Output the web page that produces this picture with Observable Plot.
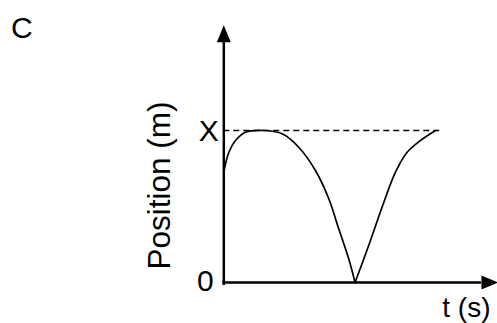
<!DOCTYPE html>
<html>
<head>
<meta charset="utf-8">
<script src="https://cdn.jsdelivr.net/npm/d3@7"></script>
<script src="https://cdn.jsdelivr.net/npm/@observablehq/plot@0.6"></script>
<style>
  html, body { margin: 0; padding: 0; background: white; }
</style>
</head>
<body>
<div id="chart"></div>
<script>
// Curve: time (arbitrary units) and position (X = 1)
const segment = ["fall","fall","fall","fall","fall","fall","fall","fall","fall","fall","fall","fall",
                 "rise","rise","rise","rise","rise","rise","rise"];
const tValues = [0, 0.24, 0.55, 1.02, 1.97, 2.76, 3.54, 4.33, 4.96, 5.43, 5.90, 6.20,
                 6.20, 6.90, 7.56, 8.11, 8.66, 9.29, 10.0];
const posValues = [0.726, 0.857, 0.934, 0.989, 1.0, 0.978, 0.89, 0.737, 0.551, 0.353, 0.156, 0,
                   0, 0.265, 0.528, 0.726, 0.857, 0.934, 1.0];

const yTickValues = [0, 1];
const yTickLabels = ["0", "X"];
const xLabel = "t (s)";
const yLabel = "Position (m)";
const panelLabel = "C";
const xAxisEnd = 12.17;   // base of x arrowhead (time units)
const yAxisEnd = 1.58;    // base of y arrowhead (position units)
const dashedEnd = 10.2;

const data = tValues.map((t, i) => ({t, pos: posValues[i], seg: segment[i]}));
const font = "Liberation Sans, Arial, Helvetica, sans-serif";

const arrowHead = {
  draw(context) {
    context.moveTo(-7, 0);
    context.lineTo(7, 0);
    context.lineTo(0, -17);
    context.closePath();
  }
};

const chart = Plot.plot({
  width: 497,
  height: 323,
  marginLeft: 0, marginRight: 0, marginTop: 0, marginBottom: 0,
  x: {domain: [0, 10], range: [223.3, 435], axis: null},
  y: {domain: [0, 1], range: [282, 130], axis: null},
  style: {background: "white", color: "black"},
  marks: [
    Plot.ruleY([1], {x1: 0, x2: dashedEnd, stroke: "black", strokeWidth: 1.5, strokeDasharray: "6,4"}),
    Plot.line(data, {x: "t", y: "pos", z: "seg", curve: "catmull-rom", stroke: "black", strokeWidth: 1.7}),
    Plot.ruleX([0], {y1: -0.02, y2: yAxisEnd, stroke: "black", strokeWidth: 2.5}),
    Plot.ruleY([0], {x1: -0.05, x2: xAxisEnd, stroke: "black", strokeWidth: 2.5}),
    Plot.dot([[0, yAxisEnd]], {x: d => d[0], y: d => d[1], symbol: arrowHead, fill: "black", stroke: "none"}),
    Plot.dot([[xAxisEnd, 0]], {x: d => d[0], y: d => d[1], symbol: arrowHead, rotate: 90, fill: "black", stroke: "none"}),
    Plot.text([yTickLabels[1]], {x: 0, y: yTickValues[1], text: d => d, textAnchor: "end", dx: -5, dy: 1, fontSize: 30, fontFamily: font, fill: "black"}),
    Plot.text([yTickLabels[0]], {x: 0, y: yTickValues[0], text: d => d, textAnchor: "end", dx: -10, dy: -1, fontSize: 30, fontFamily: font, fill: "black"}),
    Plot.text([yLabel], {x: 0, y: 0.638, text: d => d, rotate: -90, dx: -64, fontSize: 31.5, fontFamily: font, fill: "black"}),
    Plot.text([xLabel], {x: 11.46, y: 0, text: d => d, lineAnchor: "bottom", dy: 34, fontSize: 28, fontFamily: font, fill: "black"}),
    Plot.text([panelLabel], {frameAnchor: "top-left", text: d => d, textAnchor: "start", lineAnchor: "bottom", dx: 10.5, dy: 37, fontSize: 30, fontFamily: font, fill: "black"})
  ]
});
document.getElementById("chart").appendChild(chart);
</script>
</body>
</html>
